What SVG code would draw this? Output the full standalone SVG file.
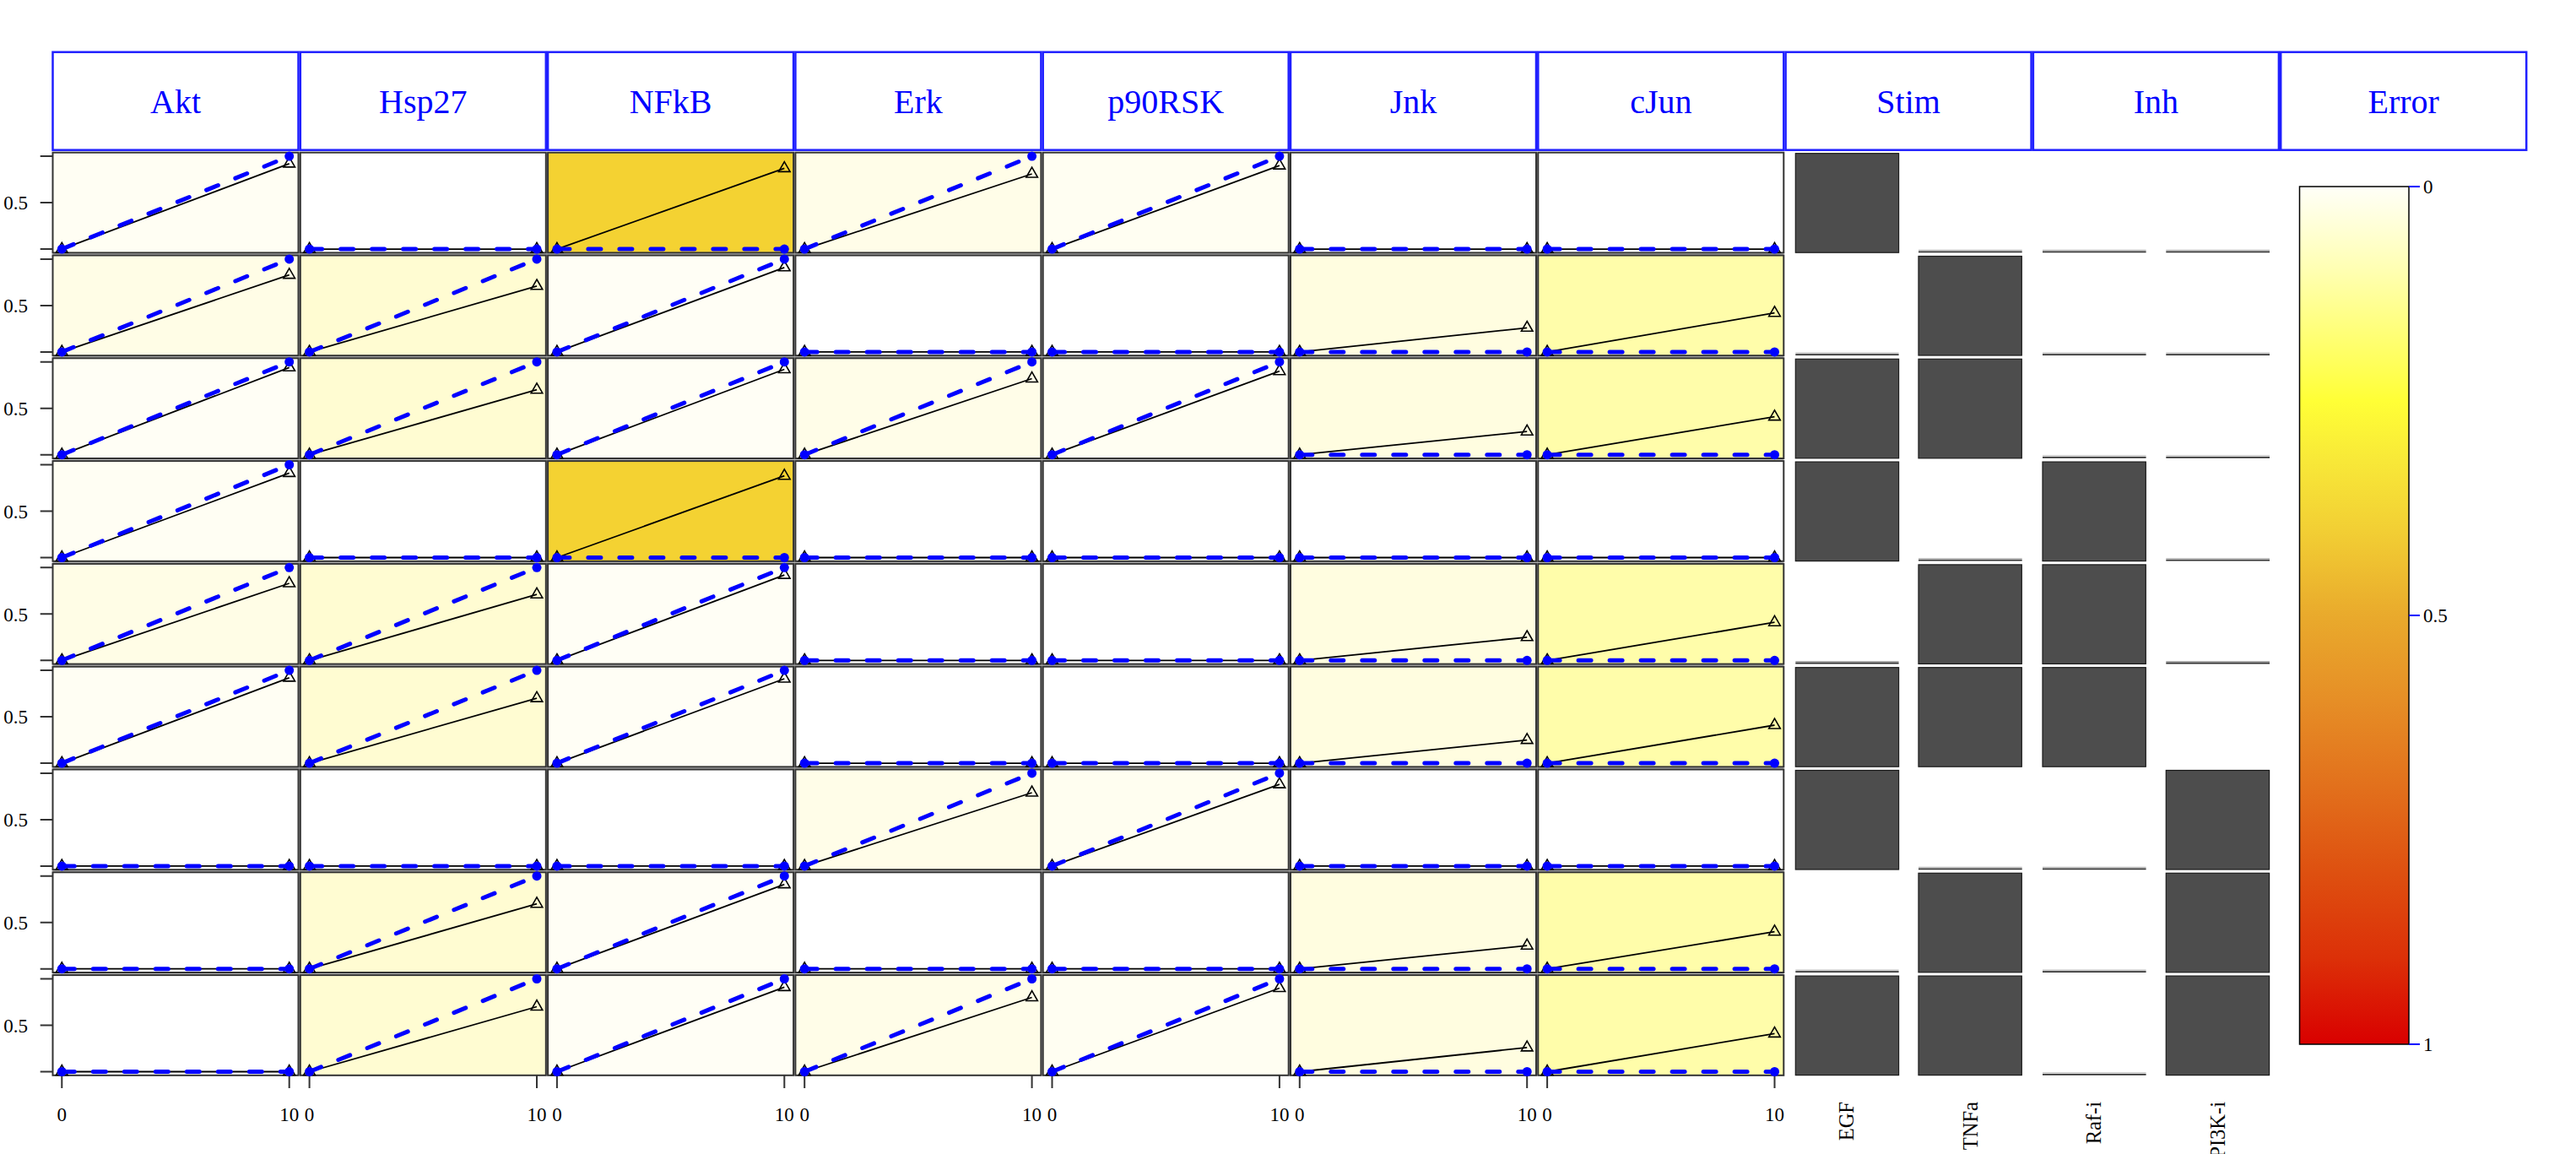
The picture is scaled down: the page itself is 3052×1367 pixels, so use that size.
<svg xmlns="http://www.w3.org/2000/svg" xmlns:xlink="http://www.w3.org/1999/xlink" width="3052" height="1367" viewBox="0 0 3052 1367">
<style>
text{font-family:"Liberation Serif","Times New Roman",serif}
.hd{fill:#fff;stroke:#1f1fff;stroke-width:2.5}
.ht{font-size:40px;fill:#0000ff;text-anchor:middle}
.pn{stroke:#333;stroke-width:2}
.sim{stroke:#000;stroke-width:1.8;fill:none}
.dat{stroke:#0000ff;stroke-width:5;stroke-dasharray:15 22;stroke-linecap:round;fill:none}
.tri{fill:none;stroke:#000;stroke-width:1.6}
.tk{stroke:#333;stroke-width:2}
.ax{font-size:23px;fill:#000}
.bar{fill:#4d4d4d;stroke:#1a1a1a;stroke-width:1.2}
.z1{stroke:#333;stroke-width:1.8}
.z2{stroke:#aaa;stroke-width:1}
.lb{font-size:24.5px;fill:#000;text-anchor:end}
.bt{stroke:#0000ff;stroke-width:2}
</style>
<defs>
<path id="tri" class="tri" d="M0,-7.8L6.8,4L-6.8,4Z"/>
<circle id="dot" r="5.5" fill="#0000ff"/>
<linearGradient id="heat" x1="0" y1="0" x2="0" y2="1">
<stop offset="0" stop-color="#FFFFF8"/>
<stop offset="0.1" stop-color="#FFFFB0"/>
<stop offset="0.2" stop-color="#FFFF60"/>
<stop offset="0.25" stop-color="#FFFF36"/>
<stop offset="0.32" stop-color="#F8E838"/>
<stop offset="0.4" stop-color="#F2CF34"/>
<stop offset="0.5" stop-color="#E9AA2C"/>
<stop offset="0.6" stop-color="#E68E26"/>
<stop offset="0.7" stop-color="#E2701C"/>
<stop offset="0.8" stop-color="#DE5010"/>
<stop offset="0.9" stop-color="#DC3008"/>
<stop offset="1" stop-color="#D90000"/>
</linearGradient>
</defs>
<rect width="3052" height="1367" fill="#fff"/>

<g id="headers">
<g id="h-Akt"><rect class="hd" x="62.5" y="61.7" width="291" height="116"/><text class="ht" x="208" y="134">Akt</text></g>
<g id="h-Hsp27"><rect class="hd" x="355.8" y="61.7" width="291" height="116"/><text class="ht" x="501.3" y="134">Hsp27</text></g>
<g id="h-NFkB"><rect class="hd" x="649.1" y="61.7" width="291" height="116"/><text class="ht" x="794.6" y="134">NFkB</text></g>
<g id="h-Erk"><rect class="hd" x="942.4" y="61.7" width="291" height="116"/><text class="ht" x="1087.9" y="134">Erk</text></g>
<g id="h-p90RSK"><rect class="hd" x="1235.7" y="61.7" width="291" height="116"/><text class="ht" x="1381.2" y="134">p90RSK</text></g>
<g id="h-Jnk"><rect class="hd" x="1529" y="61.7" width="291" height="116"/><text class="ht" x="1674.5" y="134">Jnk</text></g>
<g id="h-cJun"><rect class="hd" x="1822.3" y="61.7" width="291" height="116"/><text class="ht" x="1967.8" y="134">cJun</text></g>
<g id="h-Stim"><rect class="hd" x="2115.6" y="61.7" width="291" height="116"/><text class="ht" x="2261.1" y="134">Stim</text></g>
<g id="h-Inh"><rect class="hd" x="2408.9" y="61.7" width="291" height="116"/><text class="ht" x="2554.4" y="134">Inh</text></g>
<g id="h-Error"><rect class="hd" x="2702.2" y="61.7" width="291" height="116"/><text class="ht" x="2847.7" y="134">Error</text></g>
</g>

<rect x="62.5" y="180.7" width="2050.8" height="1093.1" fill="#bdbdbd"/>

<g id="yaxis">
<path class="tk" d="M47.7,185.1H62.5M47.7,240.1H62.5M47.7,295.1H62.5M47.7,306.9H62.5M47.7,361.9H62.5M47.7,416.9H62.5M47.7,428.7H62.5M47.7,483.7H62.5M47.7,538.7H62.5M47.7,550.5H62.5M47.7,605.5H62.5M47.7,660.5H62.5M47.7,672.3H62.5M47.7,727.3H62.5M47.7,782.3H62.5M47.7,794.1H62.5M47.7,849.1H62.5M47.7,904.1H62.5M47.7,915.9H62.5M47.7,970.9H62.5M47.7,1025.9H62.5M47.7,1037.7H62.5M47.7,1092.7H62.5M47.7,1147.7H62.5M47.7,1159.5H62.5M47.7,1214.5H62.5M47.7,1269.5H62.5"/>
<text class="ax" text-anchor="end" x="33" y="248">0.5</text>
<text class="ax" text-anchor="end" x="33" y="370">0.5</text>
<text class="ax" text-anchor="end" x="33" y="492">0.5</text>
<text class="ax" text-anchor="end" x="33" y="613.5">0.5</text>
<text class="ax" text-anchor="end" x="33" y="735.5">0.5</text>
<text class="ax" text-anchor="end" x="33" y="857">0.5</text>
<text class="ax" text-anchor="end" x="33" y="979">0.5</text>
<text class="ax" text-anchor="end" x="33" y="1101">0.5</text>
<text class="ax" text-anchor="end" x="33" y="1222.5">0.5</text>
</g>

<g id="xaxis">
<path class="tk" d="M73.3,1274V1289M342.7,1274V1289M366.6,1274V1289M636,1274V1289M659.9,1274V1289M929.3,1274V1289M953.2,1274V1289M1222.6,1274V1289M1246.5,1274V1289M1515.9,1274V1289M1539.8,1274V1289M1809.2,1274V1289M1833.1,1274V1289M2102.5,1274V1289"/>
<g class="ax" text-anchor="middle">
<text x="73.3" y="1328">0</text><text x="342.7" y="1328">10</text>
<text x="366.6" y="1328">0</text><text x="636" y="1328">10</text>
<text x="659.9" y="1328">0</text><text x="929.3" y="1328">10</text>
<text x="953.2" y="1328">0</text><text x="1222.6" y="1328">10</text>
<text x="1246.5" y="1328">0</text><text x="1515.9" y="1328">10</text>
<text x="1539.8" y="1328">0</text><text x="1809.2" y="1328">10</text>
<text x="1833.1" y="1328">0</text><text x="2102.5" y="1328">10</text>
</g>
</g>

<!-- Akt -->
<g id="Akt-1" transform="translate(62.5,180.7)"><rect class="pn" width="291" height="118.7" fill="#FFFEF3"/><path class="sim" d="M10.8,114.4L280.2,13.2"/><use href="#tri" x="10.8" y="114.4"/><use href="#tri" x="280.2" y="13.2"/><path class="dat" d="M10.8,114.4L280.2,4.4"/><use href="#dot" x="10.8" y="114.4"/><use href="#dot" x="280.2" y="4.4"/></g>
<g id="Akt-2" transform="translate(62.5,302.5)"><rect class="pn" width="291" height="118.7" fill="#FFFDE6"/><path class="sim" d="M10.8,114.4L280.2,23.1"/><use href="#tri" x="10.8" y="114.4"/><use href="#tri" x="280.2" y="23.1"/><path class="dat" d="M10.8,114.4L280.2,4.4"/><use href="#dot" x="10.8" y="114.4"/><use href="#dot" x="280.2" y="4.4"/></g>
<g id="Akt-3" transform="translate(62.5,424.3)"><rect class="pn" width="291" height="118.7" fill="#FFFEF5"/><path class="sim" d="M10.8,114.4L280.2,11"/><use href="#tri" x="10.8" y="114.4"/><use href="#tri" x="280.2" y="11"/><path class="dat" d="M10.8,114.4L280.2,4.4"/><use href="#dot" x="10.8" y="114.4"/><use href="#dot" x="280.2" y="4.4"/></g>
<g id="Akt-4" transform="translate(62.5,546.1)"><rect class="pn" width="291" height="118.7" fill="#FFFEF3"/><path class="sim" d="M10.8,114.4L280.2,14.3"/><use href="#tri" x="10.8" y="114.4"/><use href="#tri" x="280.2" y="14.3"/><path class="dat" d="M10.8,114.4L280.2,4.4"/><use href="#dot" x="10.8" y="114.4"/><use href="#dot" x="280.2" y="4.4"/></g>
<g id="Akt-5" transform="translate(62.5,667.9)"><rect class="pn" width="291" height="118.7" fill="#FFFDE6"/><path class="sim" d="M10.8,114.4L280.2,23.1"/><use href="#tri" x="10.8" y="114.4"/><use href="#tri" x="280.2" y="23.1"/><path class="dat" d="M10.8,114.4L280.2,4.4"/><use href="#dot" x="10.8" y="114.4"/><use href="#dot" x="280.2" y="4.4"/></g>
<g id="Akt-6" transform="translate(62.5,789.7)"><rect class="pn" width="291" height="118.7" fill="#FFFEF3"/><path class="sim" d="M10.8,114.4L280.2,13.2"/><use href="#tri" x="10.8" y="114.4"/><use href="#tri" x="280.2" y="13.2"/><path class="dat" d="M10.8,114.4L280.2,4.4"/><use href="#dot" x="10.8" y="114.4"/><use href="#dot" x="280.2" y="4.4"/></g>
<g id="Akt-7" transform="translate(62.5,911.5)"><rect class="pn" width="291" height="118.7" fill="#fff"/><path class="sim" d="M10.8,114.4L280.2,114.4"/><use href="#tri" x="10.8" y="114.4"/><use href="#tri" x="280.2" y="114.4"/><path class="dat" d="M10.8,114.4L280.2,114.4"/><use href="#dot" x="10.8" y="114.4"/><use href="#dot" x="280.2" y="114.4"/></g>
<g id="Akt-8" transform="translate(62.5,1033.3)"><rect class="pn" width="291" height="118.7" fill="#fff"/><path class="sim" d="M10.8,114.4L280.2,114.4"/><use href="#tri" x="10.8" y="114.4"/><use href="#tri" x="280.2" y="114.4"/><path class="dat" d="M10.8,114.4L280.2,114.4"/><use href="#dot" x="10.8" y="114.4"/><use href="#dot" x="280.2" y="114.4"/></g>
<g id="Akt-9" transform="translate(62.5,1155.1)"><rect class="pn" width="291" height="118.7" fill="#fff"/><path class="sim" d="M10.8,114.4L280.2,114.4"/><use href="#tri" x="10.8" y="114.4"/><use href="#tri" x="280.2" y="114.4"/><path class="dat" d="M10.8,114.4L280.2,114.4"/><use href="#dot" x="10.8" y="114.4"/><use href="#dot" x="280.2" y="114.4"/></g>

<!-- Hsp27 -->
<g id="Hsp27-1" transform="translate(355.8,180.7)"><rect class="pn" width="291" height="118.7" fill="#fff"/><path class="sim" d="M10.8,114.4L280.2,114.4"/><use href="#tri" x="10.8" y="114.4"/><use href="#tri" x="280.2" y="114.4"/><path class="dat" d="M10.8,114.4L280.2,114.4"/><use href="#dot" x="10.8" y="114.4"/><use href="#dot" x="280.2" y="114.4"/></g>
<g id="Hsp27-2" transform="translate(355.8,302.5)"><rect class="pn" width="291" height="118.7" fill="#FFFCD2"/><path class="sim" d="M10.8,114.4L280.2,36.3"/><use href="#tri" x="10.8" y="114.4"/><use href="#tri" x="280.2" y="36.3"/><path class="dat" d="M10.8,114.4L280.2,4.4"/><use href="#dot" x="10.8" y="114.4"/><use href="#dot" x="280.2" y="4.4"/></g>
<g id="Hsp27-3" transform="translate(355.8,424.3)"><rect class="pn" width="291" height="118.7" fill="#FFFCD2"/><path class="sim" d="M10.8,114.4L280.2,37.4"/><use href="#tri" x="10.8" y="114.4"/><use href="#tri" x="280.2" y="37.4"/><path class="dat" d="M10.8,114.4L280.2,4.4"/><use href="#dot" x="10.8" y="114.4"/><use href="#dot" x="280.2" y="4.4"/></g>
<g id="Hsp27-4" transform="translate(355.8,546.1)"><rect class="pn" width="291" height="118.7" fill="#fff"/><path class="sim" d="M10.8,114.4L280.2,114.4"/><use href="#tri" x="10.8" y="114.4"/><use href="#tri" x="280.2" y="114.4"/><path class="dat" d="M10.8,114.4L280.2,114.4"/><use href="#dot" x="10.8" y="114.4"/><use href="#dot" x="280.2" y="114.4"/></g>
<g id="Hsp27-5" transform="translate(355.8,667.9)"><rect class="pn" width="291" height="118.7" fill="#FFFCD2"/><path class="sim" d="M10.8,114.4L280.2,36.3"/><use href="#tri" x="10.8" y="114.4"/><use href="#tri" x="280.2" y="36.3"/><path class="dat" d="M10.8,114.4L280.2,4.4"/><use href="#dot" x="10.8" y="114.4"/><use href="#dot" x="280.2" y="4.4"/></g>
<g id="Hsp27-6" transform="translate(355.8,789.7)"><rect class="pn" width="291" height="118.7" fill="#FFFCD2"/><path class="sim" d="M10.8,114.4L280.2,37.4"/><use href="#tri" x="10.8" y="114.4"/><use href="#tri" x="280.2" y="37.4"/><path class="dat" d="M10.8,114.4L280.2,4.4"/><use href="#dot" x="10.8" y="114.4"/><use href="#dot" x="280.2" y="4.4"/></g>
<g id="Hsp27-7" transform="translate(355.8,911.5)"><rect class="pn" width="291" height="118.7" fill="#fff"/><path class="sim" d="M10.8,114.4L280.2,114.4"/><use href="#tri" x="10.8" y="114.4"/><use href="#tri" x="280.2" y="114.4"/><path class="dat" d="M10.8,114.4L280.2,114.4"/><use href="#dot" x="10.8" y="114.4"/><use href="#dot" x="280.2" y="114.4"/></g>
<g id="Hsp27-8" transform="translate(355.8,1033.3)"><rect class="pn" width="291" height="118.7" fill="#FFFCD2"/><path class="sim" d="M10.8,114.4L280.2,37.4"/><use href="#tri" x="10.8" y="114.4"/><use href="#tri" x="280.2" y="37.4"/><path class="dat" d="M10.8,114.4L280.2,4.4"/><use href="#dot" x="10.8" y="114.4"/><use href="#dot" x="280.2" y="4.4"/></g>
<g id="Hsp27-9" transform="translate(355.8,1155.1)"><rect class="pn" width="291" height="118.7" fill="#FFFCD2"/><path class="sim" d="M10.8,114.4L280.2,37.4"/><use href="#tri" x="10.8" y="114.4"/><use href="#tri" x="280.2" y="37.4"/><path class="dat" d="M10.8,114.4L280.2,4.4"/><use href="#dot" x="10.8" y="114.4"/><use href="#dot" x="280.2" y="4.4"/></g>

<!-- NFkB -->
<g id="NFkB-1" transform="translate(649.1,180.7)"><rect class="pn" width="291" height="118.7" fill="#F4D232"/><path class="sim" d="M10.8,114.4L280.2,18.7"/><use href="#tri" x="10.8" y="114.4"/><use href="#tri" x="280.2" y="18.7"/><path class="dat" d="M10.8,114.4L280.2,114.4"/><use href="#dot" x="10.8" y="114.4"/><use href="#dot" x="280.2" y="114.4"/></g>
<g id="NFkB-2" transform="translate(649.1,302.5)"><rect class="pn" width="291" height="118.7" fill="#FFFEF5"/><path class="sim" d="M10.8,114.4L280.2,14.3"/><use href="#tri" x="10.8" y="114.4"/><use href="#tri" x="280.2" y="14.3"/><path class="dat" d="M10.8,114.4L280.2,4.4"/><use href="#dot" x="10.8" y="114.4"/><use href="#dot" x="280.2" y="4.4"/></g>
<g id="NFkB-3" transform="translate(649.1,424.3)"><rect class="pn" width="291" height="118.7" fill="#FFFEF5"/><path class="sim" d="M10.8,114.4L280.2,13.2"/><use href="#tri" x="10.8" y="114.4"/><use href="#tri" x="280.2" y="13.2"/><path class="dat" d="M10.8,114.4L280.2,4.4"/><use href="#dot" x="10.8" y="114.4"/><use href="#dot" x="280.2" y="4.4"/></g>
<g id="NFkB-4" transform="translate(649.1,546.1)"><rect class="pn" width="291" height="118.7" fill="#F4D232"/><path class="sim" d="M10.8,114.4L280.2,17.6"/><use href="#tri" x="10.8" y="114.4"/><use href="#tri" x="280.2" y="17.6"/><path class="dat" d="M10.8,114.4L280.2,114.4"/><use href="#dot" x="10.8" y="114.4"/><use href="#dot" x="280.2" y="114.4"/></g>
<g id="NFkB-5" transform="translate(649.1,667.9)"><rect class="pn" width="291" height="118.7" fill="#FFFEF5"/><path class="sim" d="M10.8,114.4L280.2,13.2"/><use href="#tri" x="10.8" y="114.4"/><use href="#tri" x="280.2" y="13.2"/><path class="dat" d="M10.8,114.4L280.2,4.4"/><use href="#dot" x="10.8" y="114.4"/><use href="#dot" x="280.2" y="4.4"/></g>
<g id="NFkB-6" transform="translate(649.1,789.7)"><rect class="pn" width="291" height="118.7" fill="#FFFEF5"/><path class="sim" d="M10.8,114.4L280.2,14.3"/><use href="#tri" x="10.8" y="114.4"/><use href="#tri" x="280.2" y="14.3"/><path class="dat" d="M10.8,114.4L280.2,4.4"/><use href="#dot" x="10.8" y="114.4"/><use href="#dot" x="280.2" y="4.4"/></g>
<g id="NFkB-7" transform="translate(649.1,911.5)"><rect class="pn" width="291" height="118.7" fill="#fff"/><path class="sim" d="M10.8,114.4L280.2,114.4"/><use href="#tri" x="10.8" y="114.4"/><use href="#tri" x="280.2" y="114.4"/><path class="dat" d="M10.8,114.4L280.2,114.4"/><use href="#dot" x="10.8" y="114.4"/><use href="#dot" x="280.2" y="114.4"/></g>
<g id="NFkB-8" transform="translate(649.1,1033.3)"><rect class="pn" width="291" height="118.7" fill="#FFFEF5"/><path class="sim" d="M10.8,114.4L280.2,14.3"/><use href="#tri" x="10.8" y="114.4"/><use href="#tri" x="280.2" y="14.3"/><path class="dat" d="M10.8,114.4L280.2,4.4"/><use href="#dot" x="10.8" y="114.4"/><use href="#dot" x="280.2" y="4.4"/></g>
<g id="NFkB-9" transform="translate(649.1,1155.1)"><rect class="pn" width="291" height="118.7" fill="#FFFEF5"/><path class="sim" d="M10.8,114.4L280.2,14.3"/><use href="#tri" x="10.8" y="114.4"/><use href="#tri" x="280.2" y="14.3"/><path class="dat" d="M10.8,114.4L280.2,4.4"/><use href="#dot" x="10.8" y="114.4"/><use href="#dot" x="280.2" y="4.4"/></g>

<!-- Erk -->
<g id="Erk-1" transform="translate(942.4,180.7)"><rect class="pn" width="291" height="118.7" fill="#FFFDE8"/><path class="sim" d="M10.8,114.4L280.2,25.3"/><use href="#tri" x="10.8" y="114.4"/><use href="#tri" x="280.2" y="25.3"/><path class="dat" d="M10.8,114.4L280.2,4.4"/><use href="#dot" x="10.8" y="114.4"/><use href="#dot" x="280.2" y="4.4"/></g>
<g id="Erk-2" transform="translate(942.4,302.5)"><rect class="pn" width="291" height="118.7" fill="#fff"/><path class="sim" d="M10.8,114.4L280.2,114.4"/><use href="#tri" x="10.8" y="114.4"/><use href="#tri" x="280.2" y="114.4"/><path class="dat" d="M10.8,114.4L280.2,114.4"/><use href="#dot" x="10.8" y="114.4"/><use href="#dot" x="280.2" y="114.4"/></g>
<g id="Erk-3" transform="translate(942.4,424.3)"><rect class="pn" width="291" height="118.7" fill="#FFFDE8"/><path class="sim" d="M10.8,114.4L280.2,24.2"/><use href="#tri" x="10.8" y="114.4"/><use href="#tri" x="280.2" y="24.2"/><path class="dat" d="M10.8,114.4L280.2,4.4"/><use href="#dot" x="10.8" y="114.4"/><use href="#dot" x="280.2" y="4.4"/></g>
<g id="Erk-4" transform="translate(942.4,546.1)"><rect class="pn" width="291" height="118.7" fill="#fff"/><path class="sim" d="M10.8,114.4L280.2,114.4"/><use href="#tri" x="10.8" y="114.4"/><use href="#tri" x="280.2" y="114.4"/><path class="dat" d="M10.8,114.4L280.2,114.4"/><use href="#dot" x="10.8" y="114.4"/><use href="#dot" x="280.2" y="114.4"/></g>
<g id="Erk-5" transform="translate(942.4,667.9)"><rect class="pn" width="291" height="118.7" fill="#fff"/><path class="sim" d="M10.8,114.4L280.2,114.4"/><use href="#tri" x="10.8" y="114.4"/><use href="#tri" x="280.2" y="114.4"/><path class="dat" d="M10.8,114.4L280.2,114.4"/><use href="#dot" x="10.8" y="114.4"/><use href="#dot" x="280.2" y="114.4"/></g>
<g id="Erk-6" transform="translate(942.4,789.7)"><rect class="pn" width="291" height="118.7" fill="#fff"/><path class="sim" d="M10.8,114.4L280.2,114.4"/><use href="#tri" x="10.8" y="114.4"/><use href="#tri" x="280.2" y="114.4"/><path class="dat" d="M10.8,114.4L280.2,114.4"/><use href="#dot" x="10.8" y="114.4"/><use href="#dot" x="280.2" y="114.4"/></g>
<g id="Erk-7" transform="translate(942.4,911.5)"><rect class="pn" width="291" height="118.7" fill="#FFFDE8"/><path class="sim" d="M10.8,114.4L280.2,27.5"/><use href="#tri" x="10.8" y="114.4"/><use href="#tri" x="280.2" y="27.5"/><path class="dat" d="M10.8,114.4L280.2,4.4"/><use href="#dot" x="10.8" y="114.4"/><use href="#dot" x="280.2" y="4.4"/></g>
<g id="Erk-8" transform="translate(942.4,1033.3)"><rect class="pn" width="291" height="118.7" fill="#fff"/><path class="sim" d="M10.8,114.4L280.2,114.4"/><use href="#tri" x="10.8" y="114.4"/><use href="#tri" x="280.2" y="114.4"/><path class="dat" d="M10.8,114.4L280.2,114.4"/><use href="#dot" x="10.8" y="114.4"/><use href="#dot" x="280.2" y="114.4"/></g>
<g id="Erk-9" transform="translate(942.4,1155.1)"><rect class="pn" width="291" height="118.7" fill="#FFFDE8"/><path class="sim" d="M10.8,114.4L280.2,26.4"/><use href="#tri" x="10.8" y="114.4"/><use href="#tri" x="280.2" y="26.4"/><path class="dat" d="M10.8,114.4L280.2,4.4"/><use href="#dot" x="10.8" y="114.4"/><use href="#dot" x="280.2" y="4.4"/></g>

<!-- p90RSK -->
<g id="p90RSK-1" transform="translate(1235.7,180.7)"><rect class="pn" width="291" height="118.7" fill="#FFFEF2"/><path class="sim" d="M10.8,114.4L280.2,15.4"/><use href="#tri" x="10.8" y="114.4"/><use href="#tri" x="280.2" y="15.4"/><path class="dat" d="M10.8,114.4L280.2,4.4"/><use href="#dot" x="10.8" y="114.4"/><use href="#dot" x="280.2" y="4.4"/></g>
<g id="p90RSK-2" transform="translate(1235.7,302.5)"><rect class="pn" width="291" height="118.7" fill="#fff"/><path class="sim" d="M10.8,114.4L280.2,114.4"/><use href="#tri" x="10.8" y="114.4"/><use href="#tri" x="280.2" y="114.4"/><path class="dat" d="M10.8,114.4L280.2,114.4"/><use href="#dot" x="10.8" y="114.4"/><use href="#dot" x="280.2" y="114.4"/></g>
<g id="p90RSK-3" transform="translate(1235.7,424.3)"><rect class="pn" width="291" height="118.7" fill="#FFFEF2"/><path class="sim" d="M10.8,114.4L280.2,15.4"/><use href="#tri" x="10.8" y="114.4"/><use href="#tri" x="280.2" y="15.4"/><path class="dat" d="M10.8,114.4L280.2,4.4"/><use href="#dot" x="10.8" y="114.4"/><use href="#dot" x="280.2" y="4.4"/></g>
<g id="p90RSK-4" transform="translate(1235.7,546.1)"><rect class="pn" width="291" height="118.7" fill="#fff"/><path class="sim" d="M10.8,114.4L280.2,114.4"/><use href="#tri" x="10.8" y="114.4"/><use href="#tri" x="280.2" y="114.4"/><path class="dat" d="M10.8,114.4L280.2,114.4"/><use href="#dot" x="10.8" y="114.4"/><use href="#dot" x="280.2" y="114.4"/></g>
<g id="p90RSK-5" transform="translate(1235.7,667.9)"><rect class="pn" width="291" height="118.7" fill="#fff"/><path class="sim" d="M10.8,114.4L280.2,114.4"/><use href="#tri" x="10.8" y="114.4"/><use href="#tri" x="280.2" y="114.4"/><path class="dat" d="M10.8,114.4L280.2,114.4"/><use href="#dot" x="10.8" y="114.4"/><use href="#dot" x="280.2" y="114.4"/></g>
<g id="p90RSK-6" transform="translate(1235.7,789.7)"><rect class="pn" width="291" height="118.7" fill="#fff"/><path class="sim" d="M10.8,114.4L280.2,114.4"/><use href="#tri" x="10.8" y="114.4"/><use href="#tri" x="280.2" y="114.4"/><path class="dat" d="M10.8,114.4L280.2,114.4"/><use href="#dot" x="10.8" y="114.4"/><use href="#dot" x="280.2" y="114.4"/></g>
<g id="p90RSK-7" transform="translate(1235.7,911.5)"><rect class="pn" width="291" height="118.7" fill="#FFFEF0"/><path class="sim" d="M10.8,114.4L280.2,17.6"/><use href="#tri" x="10.8" y="114.4"/><use href="#tri" x="280.2" y="17.6"/><path class="dat" d="M10.8,114.4L280.2,4.4"/><use href="#dot" x="10.8" y="114.4"/><use href="#dot" x="280.2" y="4.4"/></g>
<g id="p90RSK-8" transform="translate(1235.7,1033.3)"><rect class="pn" width="291" height="118.7" fill="#fff"/><path class="sim" d="M10.8,114.4L280.2,114.4"/><use href="#tri" x="10.8" y="114.4"/><use href="#tri" x="280.2" y="114.4"/><path class="dat" d="M10.8,114.4L280.2,114.4"/><use href="#dot" x="10.8" y="114.4"/><use href="#dot" x="280.2" y="114.4"/></g>
<g id="p90RSK-9" transform="translate(1235.7,1155.1)"><rect class="pn" width="291" height="118.7" fill="#FFFEF2"/><path class="sim" d="M10.8,114.4L280.2,15.4"/><use href="#tri" x="10.8" y="114.4"/><use href="#tri" x="280.2" y="15.4"/><path class="dat" d="M10.8,114.4L280.2,4.4"/><use href="#dot" x="10.8" y="114.4"/><use href="#dot" x="280.2" y="4.4"/></g>

<!-- Jnk -->
<g id="Jnk-1" transform="translate(1529,180.7)"><rect class="pn" width="291" height="118.7" fill="#fff"/><path class="sim" d="M10.8,114.4L280.2,114.4"/><use href="#tri" x="10.8" y="114.4"/><use href="#tri" x="280.2" y="114.4"/><path class="dat" d="M10.8,114.4L280.2,114.4"/><use href="#dot" x="10.8" y="114.4"/><use href="#dot" x="280.2" y="114.4"/></g>
<g id="Jnk-2" transform="translate(1529,302.5)"><rect class="pn" width="291" height="118.7" fill="#FFFDE0"/><path class="sim" d="M10.8,114.4L280.2,85.8"/><use href="#tri" x="10.8" y="114.4"/><use href="#tri" x="280.2" y="85.8"/><path class="dat" d="M10.8,114.4L280.2,114.4"/><use href="#dot" x="10.8" y="114.4"/><use href="#dot" x="280.2" y="114.4"/></g>
<g id="Jnk-3" transform="translate(1529,424.3)"><rect class="pn" width="291" height="118.7" fill="#FFFDE0"/><path class="sim" d="M10.8,114.4L280.2,86.9"/><use href="#tri" x="10.8" y="114.4"/><use href="#tri" x="280.2" y="86.9"/><path class="dat" d="M10.8,114.4L280.2,114.4"/><use href="#dot" x="10.8" y="114.4"/><use href="#dot" x="280.2" y="114.4"/></g>
<g id="Jnk-4" transform="translate(1529,546.1)"><rect class="pn" width="291" height="118.7" fill="#fff"/><path class="sim" d="M10.8,114.4L280.2,114.4"/><use href="#tri" x="10.8" y="114.4"/><use href="#tri" x="280.2" y="114.4"/><path class="dat" d="M10.8,114.4L280.2,114.4"/><use href="#dot" x="10.8" y="114.4"/><use href="#dot" x="280.2" y="114.4"/></g>
<g id="Jnk-5" transform="translate(1529,667.9)"><rect class="pn" width="291" height="118.7" fill="#FFFDE0"/><path class="sim" d="M10.8,114.4L280.2,86.9"/><use href="#tri" x="10.8" y="114.4"/><use href="#tri" x="280.2" y="86.9"/><path class="dat" d="M10.8,114.4L280.2,114.4"/><use href="#dot" x="10.8" y="114.4"/><use href="#dot" x="280.2" y="114.4"/></g>
<g id="Jnk-6" transform="translate(1529,789.7)"><rect class="pn" width="291" height="118.7" fill="#FFFDE0"/><path class="sim" d="M10.8,114.4L280.2,86.9"/><use href="#tri" x="10.8" y="114.4"/><use href="#tri" x="280.2" y="86.9"/><path class="dat" d="M10.8,114.4L280.2,114.4"/><use href="#dot" x="10.8" y="114.4"/><use href="#dot" x="280.2" y="114.4"/></g>
<g id="Jnk-7" transform="translate(1529,911.5)"><rect class="pn" width="291" height="118.7" fill="#fff"/><path class="sim" d="M10.8,114.4L280.2,114.4"/><use href="#tri" x="10.8" y="114.4"/><use href="#tri" x="280.2" y="114.4"/><path class="dat" d="M10.8,114.4L280.2,114.4"/><use href="#dot" x="10.8" y="114.4"/><use href="#dot" x="280.2" y="114.4"/></g>
<g id="Jnk-8" transform="translate(1529,1033.3)"><rect class="pn" width="291" height="118.7" fill="#FFFDE0"/><path class="sim" d="M10.8,114.4L280.2,86.9"/><use href="#tri" x="10.8" y="114.4"/><use href="#tri" x="280.2" y="86.9"/><path class="dat" d="M10.8,114.4L280.2,114.4"/><use href="#dot" x="10.8" y="114.4"/><use href="#dot" x="280.2" y="114.4"/></g>
<g id="Jnk-9" transform="translate(1529,1155.1)"><rect class="pn" width="291" height="118.7" fill="#FFFDE0"/><path class="sim" d="M10.8,114.4L280.2,85.8"/><use href="#tri" x="10.8" y="114.4"/><use href="#tri" x="280.2" y="85.8"/><path class="dat" d="M10.8,114.4L280.2,114.4"/><use href="#dot" x="10.8" y="114.4"/><use href="#dot" x="280.2" y="114.4"/></g>

<!-- cJun -->
<g id="cJun-1" transform="translate(1822.3,180.7)"><rect class="pn" width="291" height="118.7" fill="#fff"/><path class="sim" d="M10.8,114.4L280.2,114.4"/><use href="#tri" x="10.8" y="114.4"/><use href="#tri" x="280.2" y="114.4"/><path class="dat" d="M10.8,114.4L280.2,114.4"/><use href="#dot" x="10.8" y="114.4"/><use href="#dot" x="280.2" y="114.4"/></g>
<g id="cJun-2" transform="translate(1822.3,302.5)"><rect class="pn" width="291" height="118.7" fill="#FFFDAA"/><path class="sim" d="M10.8,114.4L280.2,68.2"/><use href="#tri" x="10.8" y="114.4"/><use href="#tri" x="280.2" y="68.2"/><path class="dat" d="M10.8,114.4L280.2,114.4"/><use href="#dot" x="10.8" y="114.4"/><use href="#dot" x="280.2" y="114.4"/></g>
<g id="cJun-3" transform="translate(1822.3,424.3)"><rect class="pn" width="291" height="118.7" fill="#FFFDAA"/><path class="sim" d="M10.8,114.4L280.2,69.3"/><use href="#tri" x="10.8" y="114.4"/><use href="#tri" x="280.2" y="69.3"/><path class="dat" d="M10.8,114.4L280.2,114.4"/><use href="#dot" x="10.8" y="114.4"/><use href="#dot" x="280.2" y="114.4"/></g>
<g id="cJun-4" transform="translate(1822.3,546.1)"><rect class="pn" width="291" height="118.7" fill="#fff"/><path class="sim" d="M10.8,114.4L280.2,114.4"/><use href="#tri" x="10.8" y="114.4"/><use href="#tri" x="280.2" y="114.4"/><path class="dat" d="M10.8,114.4L280.2,114.4"/><use href="#dot" x="10.8" y="114.4"/><use href="#dot" x="280.2" y="114.4"/></g>
<g id="cJun-5" transform="translate(1822.3,667.9)"><rect class="pn" width="291" height="118.7" fill="#FFFDAA"/><path class="sim" d="M10.8,114.4L280.2,69.3"/><use href="#tri" x="10.8" y="114.4"/><use href="#tri" x="280.2" y="69.3"/><path class="dat" d="M10.8,114.4L280.2,114.4"/><use href="#dot" x="10.8" y="114.4"/><use href="#dot" x="280.2" y="114.4"/></g>
<g id="cJun-6" transform="translate(1822.3,789.7)"><rect class="pn" width="291" height="118.7" fill="#FFFDAA"/><path class="sim" d="M10.8,114.4L280.2,69.3"/><use href="#tri" x="10.8" y="114.4"/><use href="#tri" x="280.2" y="69.3"/><path class="dat" d="M10.8,114.4L280.2,114.4"/><use href="#dot" x="10.8" y="114.4"/><use href="#dot" x="280.2" y="114.4"/></g>
<g id="cJun-7" transform="translate(1822.3,911.5)"><rect class="pn" width="291" height="118.7" fill="#fff"/><path class="sim" d="M10.8,114.4L280.2,114.4"/><use href="#tri" x="10.8" y="114.4"/><use href="#tri" x="280.2" y="114.4"/><path class="dat" d="M10.8,114.4L280.2,114.4"/><use href="#dot" x="10.8" y="114.4"/><use href="#dot" x="280.2" y="114.4"/></g>
<g id="cJun-8" transform="translate(1822.3,1033.3)"><rect class="pn" width="291" height="118.7" fill="#FFFDAA"/><path class="sim" d="M10.8,114.4L280.2,70.4"/><use href="#tri" x="10.8" y="114.4"/><use href="#tri" x="280.2" y="70.4"/><path class="dat" d="M10.8,114.4L280.2,114.4"/><use href="#dot" x="10.8" y="114.4"/><use href="#dot" x="280.2" y="114.4"/></g>
<g id="cJun-9" transform="translate(1822.3,1155.1)"><rect class="pn" width="291" height="118.7" fill="#FFFDAA"/><path class="sim" d="M10.8,114.4L280.2,69.3"/><use href="#tri" x="10.8" y="114.4"/><use href="#tri" x="280.2" y="69.3"/><path class="dat" d="M10.8,114.4L280.2,114.4"/><use href="#dot" x="10.8" y="114.4"/><use href="#dot" x="280.2" y="114.4"/></g>

<!-- Stim / Inh design matrix -->
<g id="design">
<g id="EGF">
<rect class="bar" x="2127.3" y="181.7" width="122.3" height="117.5"/>
<path class="z2" d="M2127.3,418.1H2249.6"/><path class="z1" d="M2127.3,420.1H2249.6"/>
<rect class="bar" x="2127.3" y="425.3" width="122.3" height="117.5"/>
<rect class="bar" x="2127.3" y="547.1" width="122.3" height="117.5"/>
<path class="z2" d="M2127.3,783.5H2249.6"/><path class="z1" d="M2127.3,785.5H2249.6"/>
<rect class="bar" x="2127.3" y="790.7" width="122.3" height="117.5"/>
<rect class="bar" x="2127.3" y="912.5" width="122.3" height="117.5"/>
<path class="z2" d="M2127.3,1149.1H2249.6"/><path class="z1" d="M2127.3,1151.1H2249.6"/>
<rect class="bar" x="2127.3" y="1156.1" width="122.3" height="117.5"/>
<text class="lb" transform="translate(2196,1305) rotate(-90)">EGF</text>
</g>
<g id="TNFa">
<path class="z2" d="M2273,296.3H2395.7"/><path class="z1" d="M2273,298.3H2395.7"/>
<rect class="bar" x="2273" y="303.5" width="122.3" height="117.5"/>
<rect class="bar" x="2273" y="425.3" width="122.3" height="117.5"/>
<path class="z2" d="M2273,661.7H2395.7"/><path class="z1" d="M2273,663.7H2395.7"/>
<rect class="bar" x="2273" y="668.9" width="122.3" height="117.5"/>
<rect class="bar" x="2273" y="790.7" width="122.3" height="117.5"/>
<path class="z2" d="M2273,1027.3H2395.7"/><path class="z1" d="M2273,1029.3H2395.7"/>
<rect class="bar" x="2273" y="1034.3" width="122.3" height="117.5"/>
<rect class="bar" x="2273" y="1156.1" width="122.3" height="117.5"/>
<text class="lb" transform="translate(2343,1305) rotate(-90)">TNFa</text>
</g>
<g id="Raf-i">
<path class="z2" d="M2420,296.3H2542.6"/><path class="z1" d="M2420,298.3H2542.6"/>
<path class="z2" d="M2420,418.1H2542.6"/><path class="z1" d="M2420,420.1H2542.6"/>
<path class="z2" d="M2420,539.9H2542.6"/><path class="z1" d="M2420,541.9H2542.6"/>
<rect class="bar" x="2420" y="547.1" width="122.3" height="117.5"/>
<rect class="bar" x="2420" y="668.9" width="122.3" height="117.5"/>
<rect class="bar" x="2420" y="790.7" width="122.3" height="117.5"/>
<path class="z2" d="M2420,1027.3H2542.6"/><path class="z1" d="M2420,1029.3H2542.6"/>
<path class="z2" d="M2420,1149.1H2542.6"/><path class="z1" d="M2420,1151.1H2542.6"/>
<path class="z2" d="M2420,1270.9H2542.6"/><path class="z1" d="M2420,1272.9H2542.6"/>
<text class="lb" transform="translate(2489,1305) rotate(-90)">Raf-i</text>
</g>
<g id="PI3K-i">
<path class="z2" d="M2566.3,296.3H2689"/><path class="z1" d="M2566.3,298.3H2689"/>
<path class="z2" d="M2566.3,418.1H2689"/><path class="z1" d="M2566.3,420.1H2689"/>
<path class="z2" d="M2566.3,539.9H2689"/><path class="z1" d="M2566.3,541.9H2689"/>
<path class="z2" d="M2566.3,661.7H2689"/><path class="z1" d="M2566.3,663.7H2689"/>
<path class="z2" d="M2566.3,783.5H2689"/><path class="z1" d="M2566.3,785.5H2689"/>
<rect class="bar" x="2566.3" y="912.5" width="122.3" height="117.5"/>
<rect class="bar" x="2566.3" y="1034.3" width="122.3" height="117.5"/>
<rect class="bar" x="2566.3" y="1156.1" width="122.3" height="117.5"/>
<text class="lb" transform="translate(2636,1305) rotate(-90)">PI3K-i</text>
</g>
</g>

<!-- Error colour bar -->
<g id="colorbar">
<rect x="2724.5" y="221" width="129.5" height="1016" fill="url(#heat)" stroke="#000" stroke-width="1.5"/>
<path class="bt" d="M2854,221H2867M2854,729H2867M2854,1237H2867"/>
<text class="ax" x="2871" y="229">0</text>
<text class="ax" x="2871" y="737">0.5</text>
<text class="ax" x="2871" y="1245">1</text>
</g>
</svg>
